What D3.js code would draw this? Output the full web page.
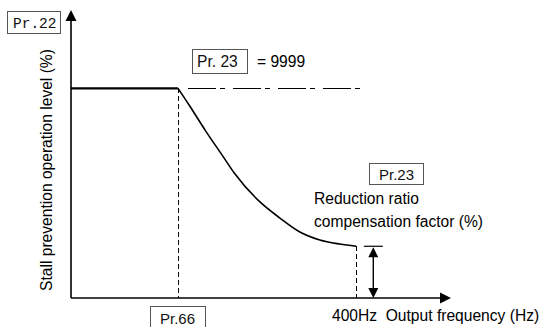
<!DOCTYPE html>
<html><head><meta charset="utf-8">
<script src="https://cdn.jsdelivr.net/npm/d3@7"></script>
<style>body{margin:0;background:#fff}svg{display:block}</style>
</head><body>
<script>
// ---- data ----
const maxFreq = 400;          // Hz, end of curve
const pr66Freq = 150;         // Hz, base point of reduction
const pr22Level = 150;        // %, stall prevention level
const minLevel = 37;          // %, level at 400Hz
const flatFreq = [0, 150];
const flatLevel = [150, 150];
const curveFreq = [150, 167, 189, 212, 229, 265, 293, 321, 349, 377, 400];
const curveLevel = [150, 137, 119.4, 102.2, 89.4, 68.7, 57.2, 47.2, 41.5, 38.6, 37];
const dashDotFreq = [164, 407];
const dimFreq = 424;
const labels = {
  pr22: "Pr.22", pr23top: "Pr. 23", eq: "= 9999", pr23: "Pr.23",
  red1: "Reduction ratio", red2: "compensation factor (%)",
  pr66: "Pr.66", xlab: "400Hz  Output frequency (Hz)",
  ylab: "Stall prevention operation level (%)"
};

const W = 541, H = 327;
const svg = d3.select("body").append("svg").attr("width", W).attr("height", H);
const x = d3.scaleLinear().domain([0, 533]).range([71, 451]);
const y = d3.scaleLinear().domain([0, 206]).range([298, 10]);
const sans = "Liberation Sans, Arial, sans-serif";
const fs = 15.6;

// axes
svg.append("line").attr("x1", x(0)).attr("x2", x(533) - 8).attr("y1", y(0)).attr("y2", y(0))
  .attr("stroke", "#000").attr("stroke-width", 1.6);
svg.append("line").attr("x1", x(0)).attr("x2", x(0)).attr("y1", y(0)).attr("y2", y(206) + 8)
  .attr("stroke", "#000").attr("stroke-width", 1.6);
svg.append("path").attr("d", `M${x(0)},${y(206)} L${x(0)-5.5},${y(206)+11} L${x(0)+5.5},${y(206)+11} Z`);
svg.append("path").attr("d", `M${x(533)},${y(0)} L${x(533)-11},${y(0)-5.5} L${x(533)-11},${y(0)+5.5} Z`);

// dashed verticals
[[pr66Freq, pr22Level], [maxFreq, minLevel]].forEach(([f, l]) => {
  svg.append("line").attr("x1", Math.round(x(f)) + 0.5).attr("x2", Math.round(x(f)) + 0.5)
    .attr("y1", y(l)).attr("y2", y(0))
    .attr("stroke", "#000").attr("stroke-width", 1.2).attr("stroke-dasharray", "5,3")
    .attr("shape-rendering", "crispEdges");
});

// dash-dot line (=9999)
svg.append("line").attr("x1", x(dashDotFreq[0])).attr("x2", x(dashDotFreq[1]))
  .attr("y1", Math.round(y(pr22Level)) + 0.5).attr("y2", Math.round(y(pr22Level)) + 0.5)
  .attr("stroke", "#000").attr("stroke-width", 1.2).attr("stroke-dasharray", "28,4,5,8")
  .attr("shape-rendering", "crispEdges");

// flat line
const line = d3.line().x(d => x(d[0])).y(d => y(d[1]));
svg.append("path").datum(flatFreq.map((f, i) => [f, flatLevel[i]])).attr("d", line)
  .attr("fill", "none").attr("stroke", "#000").attr("stroke-width", 2.2);
// curve
svg.append("path").datum(curveFreq.map((f, i) => [f, curveLevel[i]]))
  .attr("d", d3.line().x(d => x(d[0])).y(d => y(d[1])).curve(d3.curveMonotoneX))
  .attr("fill", "none").attr("stroke", "#000").attr("stroke-width", 1.6);

// dimension arrow
const dx = x(dimFreq), yt = y(minLevel), yb = y(0);
svg.append("line").attr("x1", dx - 9.5).attr("x2", dx + 9.5).attr("y1", yt).attr("y2", yt)
  .attr("stroke", "#000").attr("stroke-width", 1.2);
svg.append("line").attr("x1", dx).attr("x2", dx).attr("y1", yt + 6).attr("y2", yb - 6)
  .attr("stroke", "#000").attr("stroke-width", 1.4);
svg.append("path").attr("d", `M${dx},${yt+1} L${dx-5},${yt+11} L${dx+5},${yt+11} Z`);
svg.append("path").attr("d", `M${dx},${yb} L${dx-5},${yb-10} L${dx+5},${yb-10} Z`);

// boxes with text
function box(x0, y0, w, h, text, tx, ty, font, size) {
  svg.append("rect").attr("x", x0 + 0.5).attr("y", y0 + 0.5).attr("width", w).attr("height", h)
    .attr("fill", "#fff").attr("stroke", "#555").attr("stroke-width", 1);
  svg.append("text").attr("x", tx).attr("y", ty).attr("font-family", font).attr("font-size", size)
    .attr("fill", "#111").text(text);
}
box(7, 11, 53, 22, labels.pr22, 13, 28, "Liberation Mono, Courier New, monospace", 14.5);
box(192, 49, 55, 24, labels.pr23top, 197, 67, sans, fs);
svg.append("text").attr("x", 257).attr("y", 67).attr("font-family", sans).attr("font-size", fs).text(labels.eq);
box(369, 163, 54, 21, labels.pr23, 379, 180, sans, 15);
svg.append("text").attr("x", 314).attr("y", 204).attr("font-family", sans).attr("font-size", fs).text(labels.red1);
svg.append("text").attr("x", 314).attr("y", 227).attr("font-family", sans).attr("font-size", fs).text(labels.red2);
box(150, 306, 55, 24, labels.pr66, 160, 324, sans, 15);
svg.append("text").attr("x", 332).attr("y", 321).attr("font-family", sans).attr("font-size", fs)
  .attr("xml:space", "preserve").style("white-space", "pre").text(labels.xlab);
svg.append("text").attr("transform", "translate(52,170) rotate(-90)").attr("text-anchor", "middle")
  .attr("font-family", sans).attr("font-size", fs).text(labels.ylab);
</script>
</body></html>
